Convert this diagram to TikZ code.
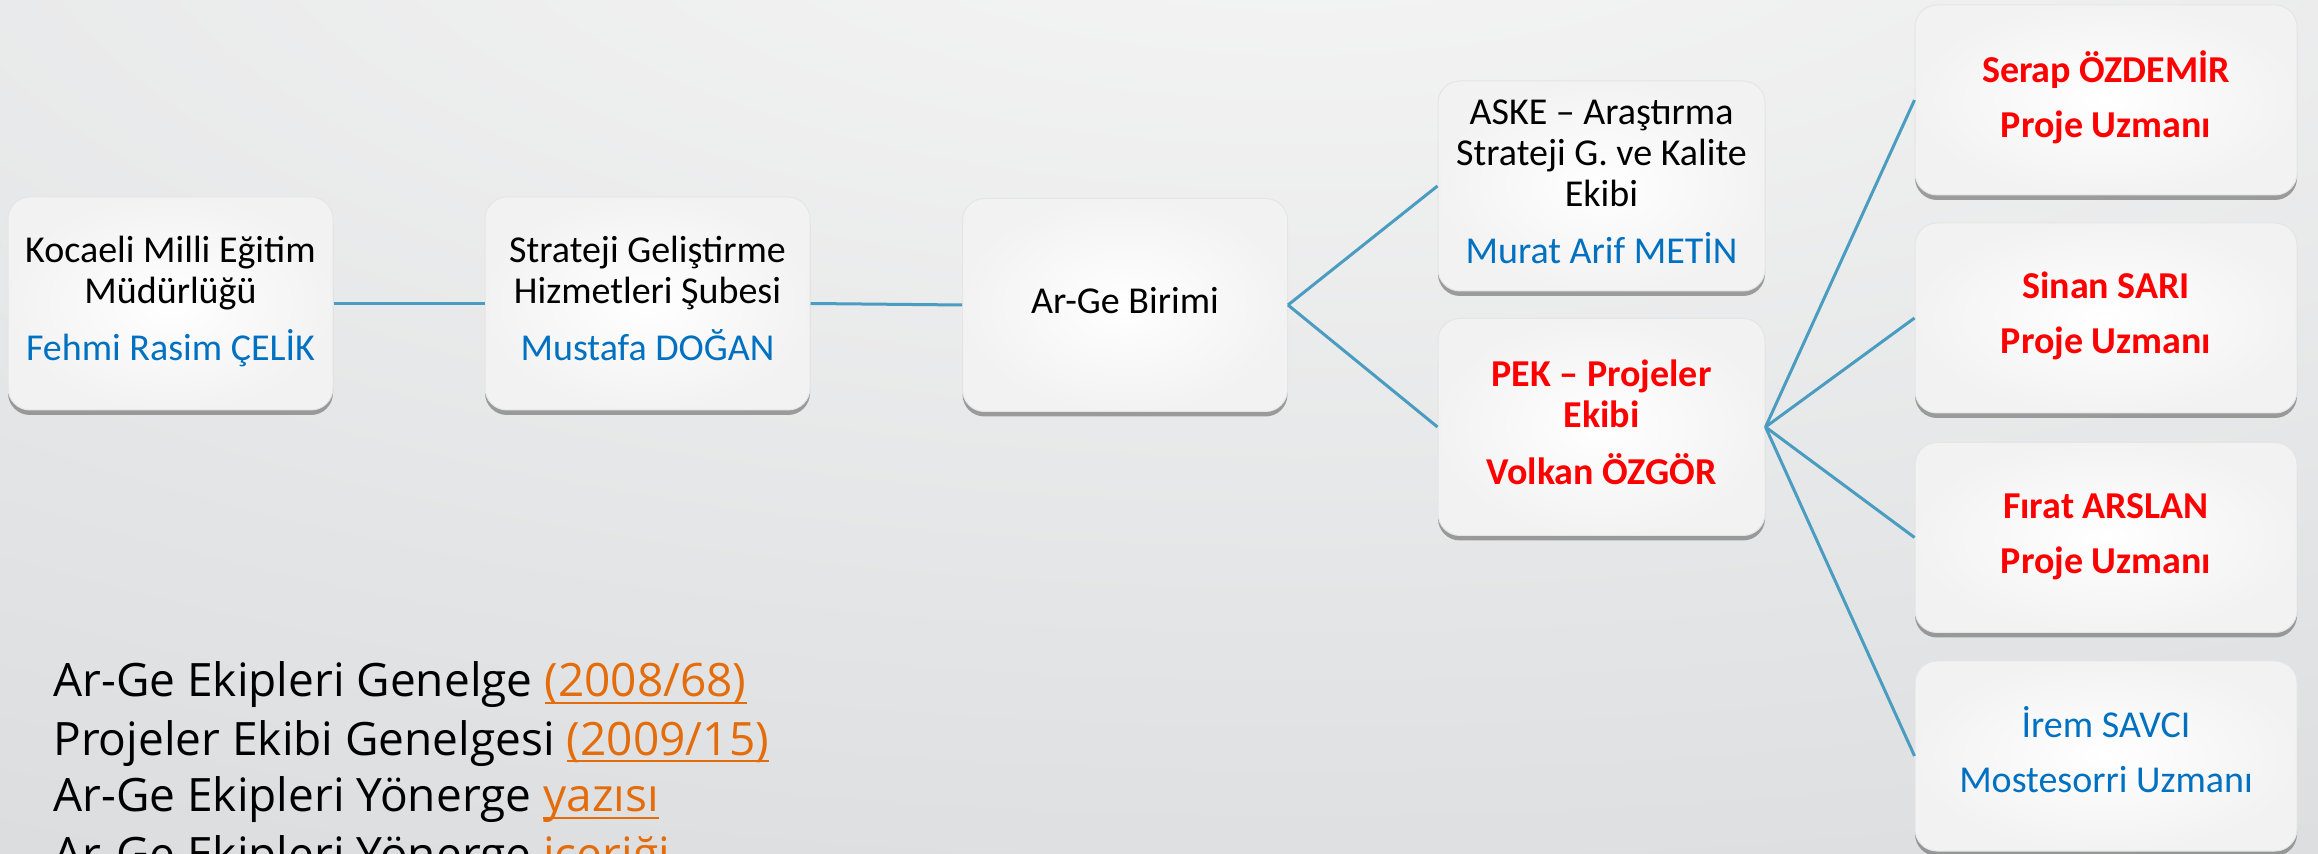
\documentclass[tikz,border=0pt]{standalone}
\usepackage{fontspec}
\setmainfont{Carlito}
\newfontfamily\segoe{Open Sans}
\usetikzlibrary{shadows}
\definecolor{nameblue}{HTML}{0070C0}
\definecolor{pekred}{HTML}{FF0000}
\definecolor{linkorange}{HTML}{E46C0A}
\definecolor{connblue}{HTML}{4A9CC0}
\definecolor{bgout}{HTML}{B8BCBF}
\pgfdeclareradialshading{bgshade}{\pgfpoint{0bp}{0bp}}{rgb(0bp)=(0.965,0.965,0.965); rgb(50bp)=(0.722,0.737,0.749)}
\newcommand\nm[1]{\textcolor{nameblue}{#1}}
\newcommand\lnk[1]{\textcolor{linkorange}{\setbox0\hbox{#1}\rlap{\rule[-3.6pt]{\wd0}{1.3pt}}\box0}}
\tikzset{
  orgbox/.style={rectangle, rounded corners=11pt, draw=black!10, line width=0.5pt,
    inner color=white, outer color=black!5, inner sep=0pt, align=center,
    font=\fontsize{19}{20.5}\selectfont,
    drop shadow={shadow xshift=0pt, shadow yshift=-2.5pt, opacity=0.6, fill=black!60}},
  bigbox/.style={orgbox, minimum width=162.5pt, minimum height=106.5pt},
  midbox/.style={orgbox, minimum width=163.5pt, minimum height=105pt},
  smallbox/.style={orgbox, minimum width=191pt, minimum height=95pt},
  redtext/.style={text=pekred, font=\fontsize{19}{20.5}\selectfont\bfseries},
  bluetext/.style={text=nameblue},
  connline/.style={draw=connblue, line width=1.5pt},
  bottomtext/.style={anchor=base west, inner sep=0pt, font=\segoe\fontsize{23}{28}\selectfont}
}
\begin{document}
\begin{tikzpicture}[x=0.5pt,y=-0.5pt]
\clip (0,0) rectangle (2318,854);
\fill[bgout] (0,0) rectangle (2318,854);
\shade[shading=bgshade] (1300,-150) ellipse [x radius=1625pt, y radius=650pt];

\node[bigbox] (k1) at (170.5,303.5) {Kocaeli Milli Eğitim\strut\\Müdürlüğü\\[8pt]\nm{Fehmi Rasim ÇELİK\strut}};
\node[bigbox] (k2) at (647.5,303.5) {Strateji Geliştirme\strut\\Hizmetleri Şubesi\\[8pt]\nm{Mustafa DOĞAN\strut}};
\node[bigbox] (k3) at (1125,305) {Ar-Ge Birimi\strut};
\node[midbox] (aske) at (1601.5,186) {ASKE – Araştırma\strut\\Strateji G. ve Kalite\\Ekibi\\[8pt]\nm{Murat Arif METİN\strut}};
\node[midbox, minimum height=108.5pt, redtext] (pek) at (1601.5,427) {PEK – Projeler\strut\\Ekibi\\[8pt]Volkan ÖZGÖR\strut};
\node[smallbox, redtext] (r1) at (2106,100) {Serap ÖZDEMİR\strut\\[7pt]Proje Uzmanı\strut};
\node[smallbox, redtext] (r2) at (2106,318) {Sinan SARI\strut\\[7pt]Proje Uzmanı\strut};
\node[smallbox, redtext] (r3) at (2106,537.5) {Fırat ARSLAN\strut\\[7pt]Proje Uzmanı\strut};
\node[smallbox, bluetext] (r4) at (2106,756) {İrem SAVCI\strut\\[7pt]Mostesorri Uzmanı\strut};

\draw[connline] (k1.east) -- (k2.west);
\draw[connline] (k2.east) -- (k3.west);
\draw[connline] (k3.east) -- (aske.west);
\draw[connline] (k3.east) -- (pek.west);
\draw[connline] (pek.east) -- (r1.west);
\draw[connline] (pek.east) -- (r2.west);
\draw[connline] (pek.east) -- (r3.west);
\draw[connline] (pek.east) -- (r4.west);

\node[bottomtext] (t1) at (53,697) {Ar-Ge Ekipleri Genelge \lnk{(2008/68)}};
\node[bottomtext] (t2) at (53,755) {Projeler Ekibi Genelgesi \lnk{(2009/15)}};
\node[bottomtext] (t3) at (53,812) {Ar-Ge Ekipleri Yönerge \lnk{yazısı}};
\node[bottomtext] (t4) at (53,870) {Ar-Ge Ekipleri Yönerge \lnk{içeriği}};
\end{tikzpicture}
\end{document}
